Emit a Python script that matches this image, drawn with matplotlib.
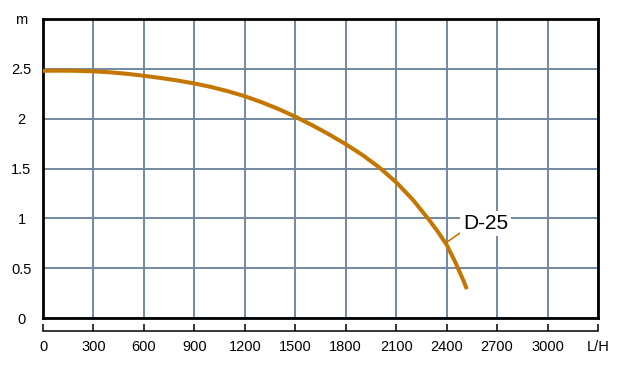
import matplotlib
matplotlib.use("Agg")
import matplotlib.pyplot as plt
from matplotlib import font_manager

# pump curve D-25: flow (L/H) vs head (m)
flow = [0, 100, 200, 300, 400, 500, 600, 700, 800, 900, 1000, 1100, 1200,
        1300, 1400, 1500, 1600, 1700, 1800, 1900, 2000, 2100, 2200, 2300,
        2350, 2400, 2450, 2500, 2520]
head = [2.48, 2.482, 2.48, 2.475, 2.465, 2.45, 2.43, 2.408, 2.383, 2.353,
        2.318, 2.275, 2.225, 2.165, 2.097, 2.02, 1.935, 1.843, 1.744, 1.635,
        1.51, 1.362, 1.185, 0.975, 0.86, 0.735, 0.565, 0.375, 0.29]

x_ticks = [0, 300, 600, 900, 1200, 1500, 1800, 2100, 2400, 2700, 3000, 3300]
x_labels = ['0', '300', '600', '900', '1200', '1500', '1800', '2100',
            '2400', '2700', '3000', 'L/H']
y_ticks = [0, 0.5, 1, 1.5, 2, 2.5, 3]
y_labels = ['0', '0.5', '1', '1.5', '2', '2.5', 'm']

curve_name = 'D-25'
label_xy = (2497, 0.95)
label_tip = (2392, 0.75)

names = {f.name for f in font_manager.fontManager.ttflist}
plt.rcParams['font.family'] = ['Liberation Sans' if 'Liberation Sans' in names else 'DejaVu Sans']

orange = '#c47600'
grid_c = '#7389a3'

fig = plt.figure(figsize=(6.22, 3.66), dpi=100)
ax = fig.add_axes([43 / 622, 48 / 366, 555 / 622, 299 / 366])

ax.plot(flow, head, color=orange, lw=2.9, solid_capstyle='butt',
        solid_joinstyle='round', zorder=3)

ax.set_xlim(0, 3300)
ax.set_ylim(0, 3)
ax.set_xticks(x_ticks)
ax.set_xticklabels(x_labels)
ax.set_yticks(y_ticks)
ax.set_yticklabels(y_labels, ha='center')

ax.set_axisbelow(True)
ax.grid(True, color=grid_c, lw=1.4)

for s in ['left', 'top', 'right']:
    ax.spines[s].set_linewidth(2.0)
    ax.spines[s].set_color('black')
# bottom frame drawn as a line, the spine becomes the ruler below
ax.axhline(0, color='black', lw=2.0, zorder=4, clip_on=False)
ax.spines['bottom'].set_position(('outward', 9.5))
ax.spines['bottom'].set_linewidth(1.1)

ax.tick_params(axis='x', direction='in', length=5, width=1.1, pad=6,
               labelsize=10.5, colors='black')
ax.tick_params(axis='y', length=0, pad=15.5, labelsize=10.5)

ax.annotate(curve_name, xy=label_tip, xytext=label_xy,
            fontsize=15, ha='left', va='center', zorder=5,
            bbox=dict(boxstyle='square,pad=0.15', fc='white', ec='none'),
            arrowprops=dict(arrowstyle='-', color=orange, lw=1.2,
                            shrinkA=0, shrinkB=0, relpos=(0.0, 0.1)))

fig.savefig('out.png', dpi=100)
